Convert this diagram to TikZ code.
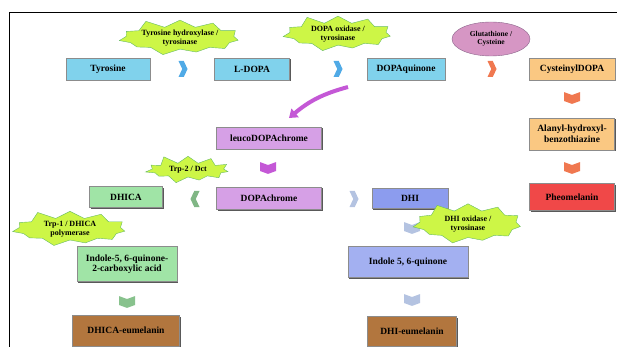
\documentclass[tikz,border=0pt]{standalone}
\usepackage{fontspec}
\setmainfont{Liberation Serif}
\usetikzlibrary{shapes.symbols,shapes.geometric,shadows,arrows.meta}

\definecolor{tyrblue}{RGB}{128,210,236}
\definecolor{lilac}{RGB}{214,160,230}
\definecolor{mintgreen}{RGB}{160,228,166}
\definecolor{dhiblue}{RGB}{140,156,238}
\definecolor{peach}{RGB}{250,200,130}
\definecolor{pheored}{RGB}{240,72,72}
\definecolor{melbrown}{RGB}{178,118,62}
\definecolor{burstgreen}{RGB}{205,246,70}
\definecolor{glupink}{RGB}{214,150,196}
\definecolor{chevblue}{RGB}{80,170,230}
\definecolor{chevorange}{RGB}{240,120,80}
\definecolor{chevgray}{RGB}{180,195,225}
\definecolor{curvviolet}{RGB}{196,88,214}

\begin{document}
\begin{tikzpicture}[x=1pt,y=1pt,
    box/.style={rectangle,draw=black!45,minimum height=22pt,inner sep=1pt,align=center,
      font=\bfseries\fontsize{9.5}{10.5}\selectfont,
      drop shadow={shadow xshift=1.2pt,shadow yshift=-1.5pt,fill=black!65,opacity=1}},
    burst/.style={starburst,starburst points=11,starburst point height=9pt,random starburst=11,
      fill=burstgreen,draw=green!55!black!60,align=center,inner sep=0pt,
      font=\bfseries\fontsize{8}{8.5}\selectfont},
    chevr/.style={signal,signal from=west,signal to=east,signal pointer angle=130,
      minimum width=9pt,minimum height=16pt,inner sep=0pt},
    chevl/.style={signal,signal from=east,signal to=west,signal pointer angle=130,
      minimum width=9pt,minimum height=16pt,inner sep=0pt},
    chevd/.style={signal,signal from=north,signal to=south,signal pointer angle=140,
      minimum width=16pt,minimum height=6pt,inner sep=0pt}]

      \useasboundingbox (0,0) rectangle (617,-347);
      \draw[line width=1.6pt] (9.5,-347) -- (9.5,-12.5) -- (617,-12.5);

      \node[box,fill=tyrblue,minimum width=84pt] (tyr) at (108,-69) {Tyrosine};
      \node[box,fill=tyrblue,minimum width=75pt] (ldopa) at (252,-69) {L-DOPA};
      \node[box,fill=tyrblue,minimum width=78pt] (dq) at (406,-69) {DOPAquinone};
      \node[box,fill=peach,minimum width=86pt] (cys) at (572,-69) {CysteinylDOPA};
      \node[box,fill=peach,minimum width=85pt,minimum height=32pt] (alanyl) at (572,-134) {Alanyl-hydroxyl-\\benzothiazine};
      \node[box,fill=pheored,minimum width=85pt,minimum height=27pt] (pheo) at (572,-197) {Pheomelanin};
      \node[box,fill=lilac,minimum width=105pt] (leuco) at (269,-138) {leucoDOPAchrome};
      \node[box,fill=lilac,minimum width=105pt] (dopac) at (269,-198) {DOPAchrome};
      \node[box,fill=mintgreen,minimum width=73pt,minimum height=21pt] (dhica) at (126,-197) {DHICA};
      \node[box,fill=dhiblue,minimum width=76pt,minimum height=20pt] (dhi) at (410,-198) {DHI};
      \node[box,fill=mintgreen,minimum width=100pt,minimum height=35pt] (iqca) at (127,-264) {Indole-5, 6-quinone-\\2-carboxylic acid};
      \node[box,fill=dhiblue!80,minimum width=120pt,minimum height=31pt] (iq) at (408,-262) {Indole 5, 6-quinone};
      \node[box,fill=melbrown,minimum width=107pt,minimum height=31pt] (dhicaeu) at (126,-330.5) {DHICA-eumelanin};
      \node[box,fill=melbrown,minimum width=89pt,minimum height=30pt] (dhieu) at (412,-331.5) {DHI-eumelanin};

      \node[chevr,fill=chevblue] (c1) at (183,-69) {};
      \node[chevr,fill=chevblue] (c2) at (338,-69) {};
      \node[chevr,fill=chevorange] (c3) at (492,-69) {};
      \node[chevd,fill=chevorange] (c4) at (572,-98) {};
      \node[chevd,fill=chevorange] (c5) at (572,-168) {};
      \node[chevd,fill=curvviolet] (c6) at (268,-168) {};
      \node[chevl,fill=mintgreen!80!black] (c7) at (195,-199) {};
      \node[chevr,fill=chevgray] (c8) at (354,-199) {};
      \node[chevd,fill=chevgray] (c9) at (412,-228) {};
      \node[chevd,fill=mintgreen!85!black] (c10) at (127,-302) {};
      \node[chevd,fill=chevgray] (c11) at (412,-300) {};

      \coordinate (cq) at (348,-87);
      \coordinate (ct) at (289,-118);
      \draw[line width=4pt,curvviolet,-{Triangle[width=11pt,length=8pt]}] (cq) to[out=195,in=40] (ct);

      \node[burst,minimum width=120pt,minimum height=37pt] (s1) at (180,-38) {Tyrosine hydroxylase /\\tyrosinase};
      \node[burst,minimum width=115pt,minimum height=40pt] (s2) at (338,-34) {DOPA oxidase /\\tyrosinase};
      \node[burst,minimum width=90pt,minimum height=32pt] (s3) at (188,-170) {Trp-2 / Dct};
      \node[burst,minimum width=120pt,minimum height=40pt] (s4) at (70,-229) {Trp-1 / DHICA\\polymerase};
      \node[burst,minimum width=115pt,minimum height=45pt] (s5) at (468,-224) {DHI oxidase /\\tyrosinase};
      \node[ellipse,fill=glupink,draw=violet!50!black!60,minimum width=78pt,minimum height=34pt,inner sep=0pt,
        align=center,font=\bfseries\fontsize{7.5}{8}\selectfont] (glu) at (491,-39) {Glutathione /\\Cysteine};
\end{tikzpicture}
\end{document}
